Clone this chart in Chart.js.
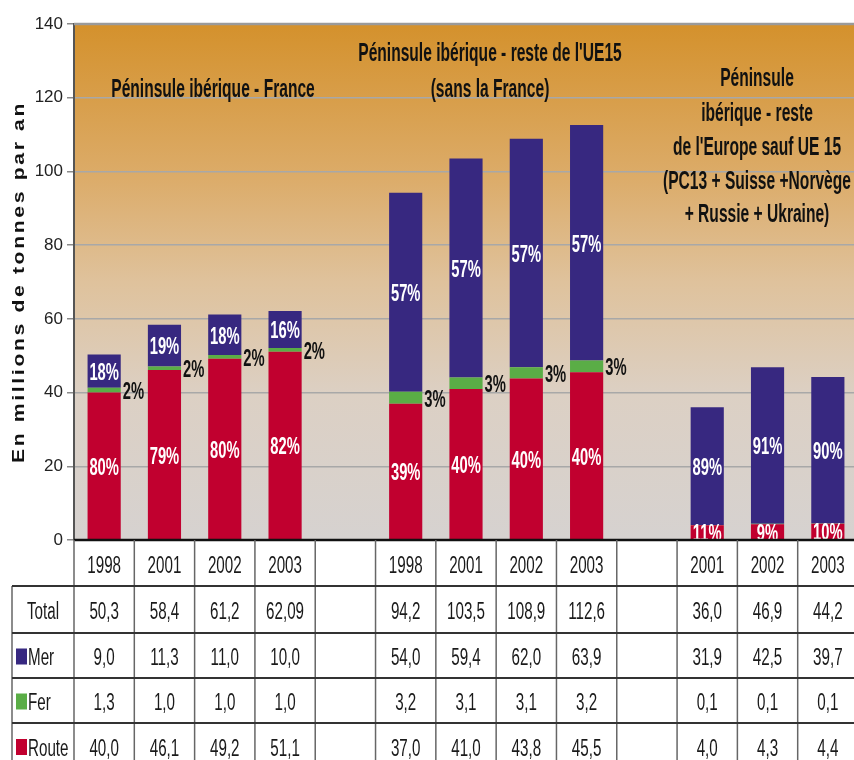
<!DOCTYPE html>
<html><head><meta charset="utf-8">
<script src="https://cdn.jsdelivr.net/npm/chart.js@4.4.1/dist/chart.umd.min.js"></script>
<style>
html,body{margin:0;padding:0;background:#fff;overflow:hidden;width:854px;height:760px}
#wrap{width:860px;height:760px}
canvas{display:block}
</style></head>
<body><div id="wrap"><canvas id="c" width="860" height="760"></canvas></div>
<script>
// ---- data ----
const years  = ['1998','2001','2002','2003','', '1998','2001','2002','2003','', '2001','2002','2003'];
const route  = [40.0, 46.1, 49.2, 51.1, null, 37.0, 41.0, 43.8, 45.5, null, 4.0, 4.3, 4.4];
const fer    = [1.3, 1.0, 1.0, 1.0, null, 3.2, 3.1, 3.1, 3.2, null, 0.1, 0.1, 0.1];
const mer    = [9.0, 11.3, 11.0, 10.0, null, 54.0, 59.4, 62.0, 63.9, null, 31.9, 42.5, 39.7];
const totals = [50.3, 58.4, 61.2, 62.09, null, 94.2, 103.5, 108.9, 112.6, null, 36.0, 46.9, 44.2];
const routePct = [80, 79, 80, 82, null, 39, 40, 40, 40, null, 11, 9, 10];
const ferPct   = [2, 2, 2, 2, null, 3, 3, 3, 3, null, null, null, null];
const merPct   = [18, 19, 18, 16, null, 57, 57, 57, 57, null, 89, 91, 90];
const seriesNames = ['Route', 'Fer', 'Mer'];
const seriesColors = ['#C1002F', '#5AAD46', '#372880'];
const rowNames = ['Total', 'Mer', 'Fer', 'Route'];
const yAxisTitle = 'En millions de tonnes par an';
const groupTitles = [
  ['Péninsule ibérique - France'],
  ["Péninsule ibérique - reste de l'UE15", '(sans la France)'],
  ['Péninsule', 'ibérique - reste', "de l'Europe sauf UE 15", '(PC13 + Suisse +Norvège', '+ Russie + Ukraine)']
];

// ---- helpers ----
const FONT = '"Liberation Sans", Arial, sans-serif';
function txt(ctx, s, x, y, size, bold, color, align, hs, vs) {
  hs = hs || 0.82; vs = vs || 1.32;
  ctx.save();
  ctx.translate(x, y);
  ctx.scale(hs, vs);
  ctx.font = (bold ? 'bold ' : '') + size + 'px ' + FONT;
  ctx.fillStyle = color;
  ctx.textAlign = align || 'center';
  ctx.textBaseline = 'alphabetic';
  ctx.fillText(s, 0, 0.358 * size);
  ctx.restore();
}
function fmt(v) {
  const d = Math.abs(Math.round(v * 10) - v * 10) < 1e-6 ? 1 : 2;
  return v.toFixed(d).replace('.', ',');
}
// tick font: narrow if installed
let tickFamily = '"Liberation Sans", Arial, sans-serif', tickSize = 17;
(function () {
  const c = document.createElement('canvas').getContext('2d');
  c.font = '20px "Liberation Sans Narrow", monospace';
  const a = c.measureText('00000000').width;
  c.font = '20px monospace';
  const b = c.measureText('00000000').width;
  if (Math.abs(a - b) > 0.5) { tickFamily = '"Liberation Sans Narrow", "Liberation Sans", sans-serif'; tickSize = 21; }
})();

const bgPlugin = {
  id: 'bg',
  beforeDraw(chart) {
    const { ctx, chartArea: a } = chart;
    ctx.save();
    ctx.fillStyle = '#fff';
    ctx.fillRect(0, 0, chart.width, chart.height);
    const g = ctx.createLinearGradient(0, a.top, 0, a.bottom);
    g.addColorStop(0, '#D4912C');
    g.addColorStop(0.3, '#DCAC6A');
    g.addColorStop(0.5, '#DFC29C');
    g.addColorStop(0.72, '#DCD0C4');
    g.addColorStop(1, '#D6D2D0');
    ctx.fillStyle = g;
    ctx.fillRect(a.left, a.top, a.right - a.left, a.bottom - a.top);
    ctx.restore();
  }
};

const overlayPlugin = {
  id: 'overlay',
  afterDatasetsDraw(chart) {
    const { ctx, chartArea: a } = chart;
    // top border
    ctx.save();
    ctx.strokeStyle = '#9A9A9A'; ctx.lineWidth = 2.5;
    ctx.beginPath(); ctx.moveTo(a.left, a.top); ctx.lineTo(a.right, a.top); ctx.stroke();
    ctx.restore();

    // percentage labels
    const metas = [0, 1, 2].map(i => chart.getDatasetMeta(i).data);
    ctx.save();
    ctx.beginPath(); ctx.rect(a.left, a.top, a.right - a.left, a.bottom - a.top); ctx.clip();
    for (let j = 0; j < years.length; j++) {
      const pr = [routePct[j], ferPct[j], merPct[j]];
      for (let i = 0; i < 3; i++) {
        if (pr[i] == null) continue;
        const b = metas[i][j];
        if (!b) continue;
        const p = b.getProps(['x', 'y', 'base', 'width'], true);
        const cy = (p.y + p.base) / 2;
        if (i === 1) {
          txt(ctx, pr[i] + '%', p.x + p.width / 2 + 2, cy, 18, true, '#111', 'left', 0.82, 1.38);
        } else {
          txt(ctx, pr[i] + '%', p.x, cy, 18, true, '#fff', 'center', 0.82, 1.38);
        }
      }
    }
    ctx.restore();

    // x axis line
    ctx.save();
    ctx.strokeStyle = '#111'; ctx.lineWidth = 2.5;
    ctx.beginPath(); ctx.moveTo(a.left, a.bottom); ctx.lineTo(chart.width, a.bottom); ctx.stroke();
    ctx.restore();

    // group titles
    const tpos = [[213, [88]], [490, [52, 88]], [757, [77, 112, 146, 180, 213]]];
    groupTitles.forEach((lines, k) => {
      lines.forEach((s, m) => txt(ctx, s, tpos[k][0], tpos[k][1][m], 19, true, '#111', 'center', 0.82, 1.32));
    });
  },
  afterDraw(chart) {
    const { ctx, chartArea: a } = chart;
    const xs = chart.scales.x;
    const colW = xs.getPixelForValue(1) - xs.getPixelForValue(0);
    const top = a.bottom;
    const rowsY = [top, top + 46, top + 93, top + 138, top + 183, top + 229];
    const tableLeft = 12;
    ctx.save();
    // vertical lines
    ctx.strokeStyle = '#666'; ctx.lineWidth = 1.5;
    for (let i = 0; i <= years.length; i++) {
      const x = xs.getPixelForValue(0) - colW / 2 + i * colW;
      ctx.beginPath(); ctx.moveTo(x, top); ctx.lineTo(x, chart.height); ctx.stroke();
    }
    ctx.beginPath(); ctx.moveTo(tableLeft, rowsY[1]); ctx.lineTo(tableLeft, chart.height); ctx.stroke();
    // horizontal lines
    ctx.strokeStyle = '#333'; ctx.lineWidth = 2;
    for (let r = 1; r < rowsY.length; r++) {
      ctx.beginPath(); ctx.moveTo(tableLeft, rowsY[r]); ctx.lineTo(chart.width, rowsY[r]); ctx.stroke();
    }
    ctx.restore();

    const rowData = [totals, mer, fer, route];
    const legendColors = [null, seriesColors[2], seriesColors[1], seriesColors[0]];
    for (let j = 0; j < years.length; j++) {
      const x = xs.getPixelForValue(j);
      if (years[j]) txt(ctx, years[j], x, (rowsY[0] + rowsY[1]) / 2 + 1, 18.5, false, '#1a1a1a', 'center', 0.82, 1.32);
      for (let r = 0; r < 4; r++) {
        const v = rowData[r][j];
        if (v == null) continue;
        txt(ctx, fmt(v), x, (rowsY[r + 1] + rowsY[r + 2]) / 2 + 1, 18.5, false, '#1a1a1a', 'center', 0.82, 1.32);
      }
    }
    for (let r = 0; r < 4; r++) {
      const cy = (rowsY[r + 1] + rowsY[r + 2]) / 2 + 1;
      if (legendColors[r]) {
        ctx.fillStyle = legendColors[r];
        ctx.fillRect(16, cy - 8, 11, 16);
        txt(ctx, rowNames[r], 28, cy, 18.5, false, '#1a1a1a', 'left', 0.82, 1.32);
      } else {
        txt(ctx, rowNames[r], 43, cy, 18.5, false, '#1a1a1a', 'center', 0.82, 1.32);
      }
    }

    // y axis title
    ctx.save();
    ctx.translate(18.5, (a.top + a.bottom) / 2);
    ctx.rotate(-Math.PI / 2);
    ctx.font = 'bold 16px ' + FONT;
    ctx.letterSpacing = '2px';
    const w = ctx.measureText(yAxisTitle).width;
    ctx.scale(362 / w, 1);
    ctx.fillStyle = '#111';
    ctx.textAlign = 'center';
    ctx.textBaseline = 'alphabetic';
    ctx.fillText(yAxisTitle, 0, 5.7);
    ctx.restore();
  }
};

new Chart(document.getElementById('c'), {
  type: 'bar',
  data: {
    labels: years,
    datasets: seriesNames.map((n, i) => ({
      label: n,
      data: [route, fer, mer][i],
      backgroundColor: seriesColors[i],
      borderWidth: 0
    }))
  },
  options: {
    responsive: false,
    animation: false,
    events: [],
    layout: { padding: { left: 0, right: 2, top: 24, bottom: 220 } },
    datasets: { bar: { categoryPercentage: 1, barPercentage: 0.55 } },
    plugins: { legend: { display: false }, tooltip: { enabled: false }, title: { display: false } },
    scales: {
      x: { stacked: true, display: false },
      y: {
        stacked: true, min: 0, max: 140,
        ticks: { stepSize: 20, color: '#222', padding: 4, font: { family: tickFamily, size: tickSize } },
        grid: { color: '#A8A8A8', lineWidth: 1.5, tickLength: 7, tickColor: '#8A8A8A' },
        border: { color: '#555', width: 2 },
        afterFit(s) { s.width = 74; }
      }
    }
  },
  plugins: [bgPlugin, overlayPlugin]
});
</script>
</body></html>
